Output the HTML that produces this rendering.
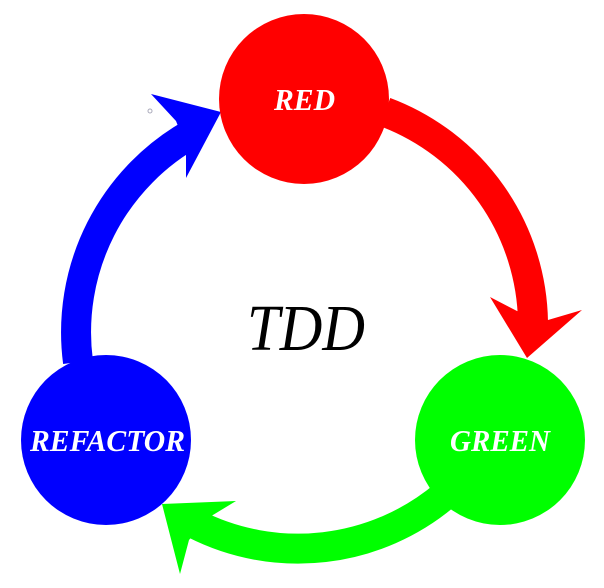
<!DOCTYPE html>
<html><head><style>html,body{margin:0;padding:0;background:#fff}</style></head>
<body>
<svg width="604" height="583" viewBox="0 0 604 583" xmlns="http://www.w3.org/2000/svg">
<g fill="none" stroke-width="30">
<path d="M 385 112 A 228 228 0 0 1 533 322" stroke="#ff0000"/>
<path d="M 78 362 A 228 228 0 0 1 195 132" stroke="#0000ff"/>
<path d="M 445 495 A 228 228 0 0 1 195 524" stroke="#00ff00"/>
</g>
<polygon points="527,358 490,297 517,311 548,320 582,310" fill="#ff0000"/>
<polygon points="221,112 151,94 176,121 186,146 186,178" fill="#0000ff"/>
<polygon points="162,504 236,501 208,518 189,540 180,574" fill="#00ff00"/>
<circle cx="304" cy="99" r="85" fill="#ff0000"/>
<circle cx="500" cy="440" r="85" fill="#00ff00"/>
<circle cx="106" cy="440" r="85" fill="#0000ff"/>
<circle cx="150" cy="111" r="2" fill="none" stroke="#aab" stroke-width="1"/>
<g font-family="Liberation Serif, serif" font-style="italic" font-weight="bold" fill="#fff">
<text x="274" y="110" font-size="31" textLength="61" lengthAdjust="spacingAndGlyphs">RED</text>
<text x="450" y="451" font-size="31" textLength="100" lengthAdjust="spacingAndGlyphs">GREEN</text>
<text x="30" y="451" font-size="31" textLength="155" lengthAdjust="spacingAndGlyphs">REFACTOR</text>
</g>
<text x="247" y="350" font-family="Liberation Serif, serif" font-style="italic" font-size="66" textLength="118" lengthAdjust="spacingAndGlyphs" fill="#000">TDD</text>
</svg>
</body></html>
